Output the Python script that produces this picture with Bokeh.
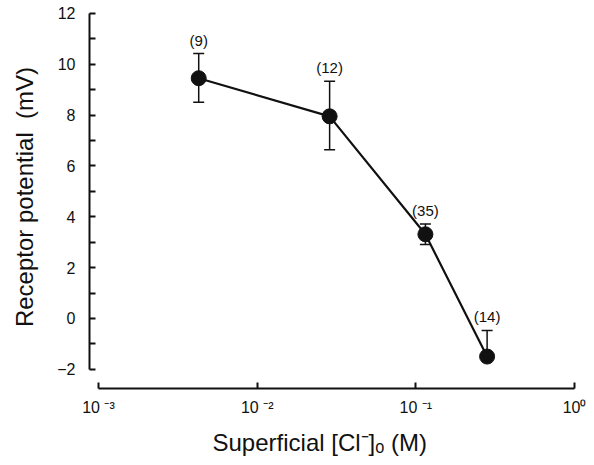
from bokeh.plotting import figure
from bokeh.models import Range1d, FixedTicker, Title
from bokeh.core.properties import value
from bokeh.embed import file_html
from bokeh.resources import INLINE

# Data
conc = [0.00428, 0.0286, 0.1148, 0.281]          # superficial [Cl-]o (M)
potential = [9.45, 7.95, 3.31, -1.50]            # receptor potential (mV)
err_up = [0.97, 1.38, 0.40, 1.03]
err_down = [0.95, 1.31, 0.40, 0.0]
n_labels = ["(9)", "(12)", "(35)", "(14)"]

y_ticks = [-2, 0, 2, 4, 6, 8, 10, 12]
y_minor = [-1, 1, 3, 5, 7, 9, 11]
x_ticks = [0.001, 0.01, 0.1, 1.0]
x_tick_labels = ["10 ⁻³", "10 ⁻²", "10 ⁻¹", "10⁰"]

FONT = "Liberation Sans"
INK = "#111111"

p = figure(width=594, height=465, x_axis_type="log",
           x_range=Range1d(10 ** -3.0567, 10 ** 0.1002),
           y_range=Range1d(-2.756, 12.31),
           output_backend="svg", toolbar_location=None,
           min_border_left=89, min_border_right=4,
           min_border_top=5, min_border_bottom=77)
p.outline_line_color = None
p.grid.visible = False
p.background_fill_color = "white"

upper = [m + e for m, e in zip(potential, err_up)]
lower = [m - e for m, e in zip(potential, err_down)]

p.segment(x0=conc, y0=lower, x1=conc, y1=upper, line_color=INK, line_width=1.5)
p.scatter(x=conc, y=upper, marker="dash", size=11, line_color=INK, line_width=1.5)
lc = [c for c, e in zip(conc, err_down) if e > 0]
ll = [l for l, e in zip(lower, err_down) if e > 0]
p.scatter(x=lc, y=ll, marker="dash", size=11, line_color=INK, line_width=1.5)
p.line(conc, potential, line_color=INK, line_width=2.2)
p.scatter(conc, potential, size=15, fill_color=INK, line_color=INK)

p.text(x=conc, y=upper, text=n_labels, text_align="center", text_baseline="bottom",
       y_offset=-5, text_font=value(FONT), text_font_size="15px", text_color=INK)

# Y axis
ya = p.yaxis[0]
ya.ticker = FixedTicker(ticks=y_ticks, minor_ticks=y_minor)
ya.bounds = (-2, 12)
ya.axis_line_width = 2
ya.axis_line_color = INK
ya.major_tick_in = 6
ya.major_tick_out = 0
ya.minor_tick_in = 6
ya.minor_tick_out = 0
ya.major_tick_line_width = 2
ya.minor_tick_line_width = 2
ya.major_tick_line_color = INK
ya.minor_tick_line_color = INK
ya.major_label_standoff = 14
ya.major_label_text_font = FONT
ya.major_label_text_font_size = "16px"
ya.major_label_text_color = INK
ya.axis_label = "Receptor potential\u00a0\u00a0(mV)"
ya.axis_label_text_font = FONT
ya.axis_label_text_font_size = "24px"
ya.axis_label_text_font_style = "normal"
ya.axis_label_text_color = INK
ya.axis_label_standoff = 16

# X axis
xa = p.xaxis[0]
xa.ticker = FixedTicker(ticks=x_ticks, minor_ticks=[])
xa.major_label_overrides = {t: s for t, s in zip(x_ticks, x_tick_labels)}
xa.bounds = (0.001, 1.0)
xa.axis_line_width = 2
xa.axis_line_color = INK
xa.major_tick_in = 6
xa.major_tick_out = 0
xa.major_tick_line_width = 2
xa.major_tick_line_color = INK
xa.minor_tick_line_color = None
xa.major_label_standoff = 10
xa.major_label_text_font = FONT
xa.major_label_text_font_size = "16px"
xa.major_label_text_color = INK

xtitle = Title(text="Superficial [Cl⁻]ₒ (M)", align="left", offset=123,
               standoff=17, text_font=FONT, text_font_size="24px",
               text_font_style="normal", text_color=INK)
p.add_layout(xtitle, "below")

open("out.html", "w").write(file_html(p, INLINE))
